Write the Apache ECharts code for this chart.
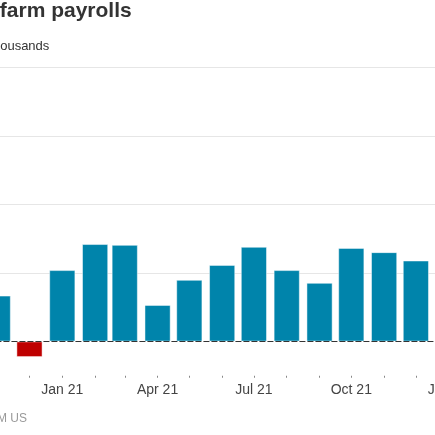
<!DOCTYPE html>
<html>
<head>
<meta charset="utf-8">
<script src="https://cdn.jsdelivr.net/npm/echarts@6/dist/echarts.min.js"></script>
<style>
html,body{margin:0;padding:0;width:435px;height:435px;overflow:hidden;background:#fff;}
#c{position:absolute;left:-100px;top:0;width:635px;height:435px;}
</style>
</head>
<body>
<div id="c"></div>
<script>
// Monthly change in nonfarm payrolls, thousands
const months = ['2020-11-01','2020-12-01','2021-01-01','2021-02-01','2021-03-01','2021-04-01','2021-05-01','2021-06-01','2021-07-01','2021-08-01','2021-09-01','2021-10-01','2021-11-01','2021-12-01','2022-01-01'];
const payrolls = [334, -113, 520, 710, 704, 266, 449, 558, 690, 520, 427, 682, 651, 590, 505];
const tickDates = ['2021-01-01','2021-04-01','2021-07-01','2021-10-01','2022-01-01'];
const tickLabels = ['Jan 21','Apr 21','Jul 21','Oct 21','Jan 22'];
const gridValues = [500, 1000, 1500, 2000];

const DAY = 86400000;
const labelByTime = {};
tickDates.forEach((d, i) => { labelByTime[echarts.time.parse(d).getTime()] = tickLabels[i]; });

const FONT = 'Liberation Sans, Arial, sans-serif';
const chart = echarts.init(document.getElementById('c'), null, {renderer: 'canvas'});
chart.setOption({
  animation: false,
  title: [
    {text: 'Nonfarm payrolls', left: 59, top: 1, padding: 0,
     textStyle: {fontFamily: FONT, fontSize: 21, fontWeight: 'bold', color: '#333'}},
    {text: 'Thousands', left: 85, top: 40, padding: 0,
     textStyle: {fontFamily: FONT, fontSize: 13, fontWeight: 'normal', color: '#333'}},
    {text: 'Source: BLS, JPM US', left: 9, top: 413, padding: 0,
     textStyle: {fontFamily: FONT, fontSize: 12, fontWeight: 'normal', color: '#999'}}
  ],
  grid: {left: 79.43, right: 65.9, top: 67.3, bottom: 59.25, containLabel: false},
  xAxis: {
    type: 'time',
    min: '2020-10-27',
    max: '2022-01-08',
    splitNumber: 16,
    minInterval: 28 * DAY,
    maxInterval: 31 * DAY,
    axisLine: {show: false, onZero: false},
    axisTick: {show: true, length: 2, lineStyle: {color: '#888', width: 1}},
    splitLine: {show: false},
    axisLabel: {
      margin: 7,
      fontFamily: FONT,
      fontSize: 14,
      color: '#444',
      formatter: function (v) { return labelByTime[v] || ''; }
    }
  },
  yAxis: {
    type: 'value', min: -250, max: 2000, show: false,
    splitLine: {show: false}
  },
  series: [
    {
      type: 'line', data: [], z: 0, silent: true,
      markLine: {
        z: 0, silent: true, symbol: ['none', 'none'], label: {show: false},
        lineStyle: {color: '#e6e6e6', width: 1, type: 'solid'},
        data: gridValues.map(v => ({yAxis: v}))
      }
    },
    {
      type: 'bar', z: 2,
      barWidth: 26,
      data: months.map((m, i) => [m, payrolls[i]]),
      itemStyle: {
        color: function (p) { return p.value[1] < 0 ? '#bf0000' : '#0084ab'; },
        borderColor: 'rgba(255,255,255,0.6)', borderWidth: 0.8
      }
    },
    {
      type: 'line', data: [], z: 10, silent: true,
      markLine: {
        z: 10, silent: true, symbol: ['none', 'none'], label: {show: false},
        lineStyle: {color: '#333', width: 1, type: [6, 2]},
        data: [{yAxis: 0}]
      }
    }
  ]
});
</script>
</body>
</html>
